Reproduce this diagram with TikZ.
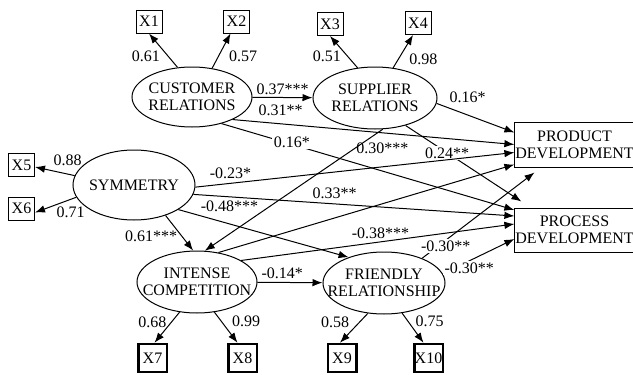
\documentclass[tikz,border=0pt]{standalone}
\usepackage{fontspec}
\setmainfont{Liberation Serif}
\usetikzlibrary{arrows.meta,shapes.geometric}

\tikzset{
  lat/.style={draw, ellipse, inner sep=0pt, line width=1pt, label={[align=center, inner sep=0pt]center:#1}},
  ind/.style={draw, line width=1pt, minimum width=26pt, minimum height=23pt, inner sep=0pt},
  indb/.style={draw, line width=2.5pt, minimum width=28.5pt, minimum height=28pt, inner sep=0pt},
  outc/.style={draw, line width=1pt, align=center, minimum height=44pt, inner xsep=0.5pt, inner ysep=0pt},
  arr/.style={-{Latex[length=10pt,width=7.5pt]}, line width=1pt},
  lbl/.style={inner sep=1.5pt},
  wlbl/.style={inner sep=1.5pt, fill=white},
}

\begin{document}
\begin{tikzpicture}[x=1pt, y=-1pt, every node/.style={font=\fontsize{16}{17}\selectfont}]
\clip (0,0) rectangle (633,375);

\node[lat={CUSTOMER\\RELATIONS}, minimum width=120pt, minimum height=60pt] (cr) at (192,97) {};
\node[lat={SUPPLIER\\RELATIONS}, minimum width=124pt, minimum height=62pt] (sr) at (375,98) {};
\node[lat={SYMMETRY}, minimum width=122pt, minimum height=70pt] (sym) at (134,185) {};
\node[lat={INTENSE\\COMPETITION}, minimum width=120pt, minimum height=62pt] (ic) at (197,282) {};
\node[lat={FRIENDLY\\RELATIONSHIP}, minimum width=122pt, minimum height=62pt] (fr) at (384,283) {};

\node[ind] (x1) at (149,21.5) {X1};
\node[ind] (x2) at (236.5,21.5) {X2};
\node[ind] (x3) at (330,24) {X3};
\node[ind] (x4) at (418,23) {X4};
\node[ind] (x5) at (21.5,165) {X5};
\node[ind] (x6) at (21.5,208.5) {X6};
\node[indb] (x7) at (152.5,358) {X7};
\node[indb] (x8) at (242.5,358) {X8};
\node[indb] (x9) at (342,358) {X9};
\node[indb] (x10) at (428.5,358) {X10};

\node[outc, minimum height=45pt] (prod) at (574.5,144.5) {PRODUCT\\DEVELOPMENT};
\node[outc] (proc) at (574.5,230) {PROCESS\\DEVELOPMENT};

\draw[arr] (cr.116) -- node[lbl, pos=.34, left=6pt] {0.61} (x1.south);
\draw[arr] (cr.55) -- node[lbl, pos=.33, right=9pt] {0.57} ([xshift=-6pt]x2.south);
\draw[arr] (sr.120) -- node[lbl, pos=.35, left=5pt] {0.51} (x3.south);
\draw[arr] (sr.59) -- node[lbl, pos=.27, right=9pt] {0.98} ([xshift=-5pt]x4.south);
\draw[arr] (sym.171) -- node[lbl, pos=.18, above=6pt] {0.88} ([yshift=-2pt]x5.east);
\draw[arr] (sym.192) -- node[lbl, pos=.14, below=5pt] {0.71} ([yshift=-4pt]x6.east);
\draw[arr] (ic.240) -- node[lbl, pos=.33, left=3pt] {0.68} ([xshift=2pt]x7.north);
\draw[arr] (ic.300) -- node[lbl, pos=.29, right=9pt] {0.99} ([xshift=-5pt]x8.north);
\draw[arr] (fr.242) -- node[lbl, pos=.31, left=8pt] {0.58} ([xshift=-2pt]x9.north);
\draw[arr] (fr.301) -- node[lbl, pos=.26, right=6pt] {0.75} ([xshift=-5pt]x10.north);

\draw[arr] (cr) -- node[lbl, above=1pt] {0.37***} (sr);
\draw[arr] (cr.-29) -- node[lbl, pos=.17, above=6pt] {0.31**} (prod.west);
\draw[arr] (cr.-42) -- node[wlbl, pos=.24, yshift=2pt] {0.16*} ([yshift=20pt]proc.west);
\draw[arr] (sr.-5) -- node[lbl, pos=.4, above=10pt] {0.16*} ([yshift=12pt]prod.west);
\draw[arr] (sr.-76) -- node[lbl, pos=.16, right] {0.30***} (ic.76);
\draw[arr] (sr.-42) -- node[wlbl, pos=.36] {0.24**} ([xshift=7pt,yshift=6pt]proc.north west);
\draw[arr] (sym.-2) -- node[lbl, pos=.11, above=3pt] {-0.23*} ([yshift=-8pt]prod.west);
\draw[arr] (sym.-9) -- node[lbl, pos=.44, above=3pt] {0.33**} ([yshift=14pt]proc.west);
\draw[arr] (sym.-29) -- node[lbl, pos=.3, above=10pt] {-0.48***} (fr.144);
\draw[arr] (sym.-44) -- node[lbl, pos=.6, left=3pt] {0.61***} (ic.97);
\draw[arr] (ic.54) -- ([yshift=-20pt]prod.west);
\draw[arr] (ic.26) -- node[lbl, pos=.51, above=1pt] {-0.38***} ([yshift=6pt]proc.west);
\draw[arr] (ic) -- node[lbl, pos=.38, above=2pt] {-0.14*} (fr);
\draw[arr] (fr.33) -- node[wlbl, pos=.21, yshift=-6pt] {-0.30**} ([xshift=-40pt,yshift=-5pt]prod.south);
\draw[arr] (fr.9) -- node[wlbl, pos=.37, yshift=-7pt] {-0.30**} ([yshift=-9pt]proc.west);
\end{tikzpicture}
\end{document}
